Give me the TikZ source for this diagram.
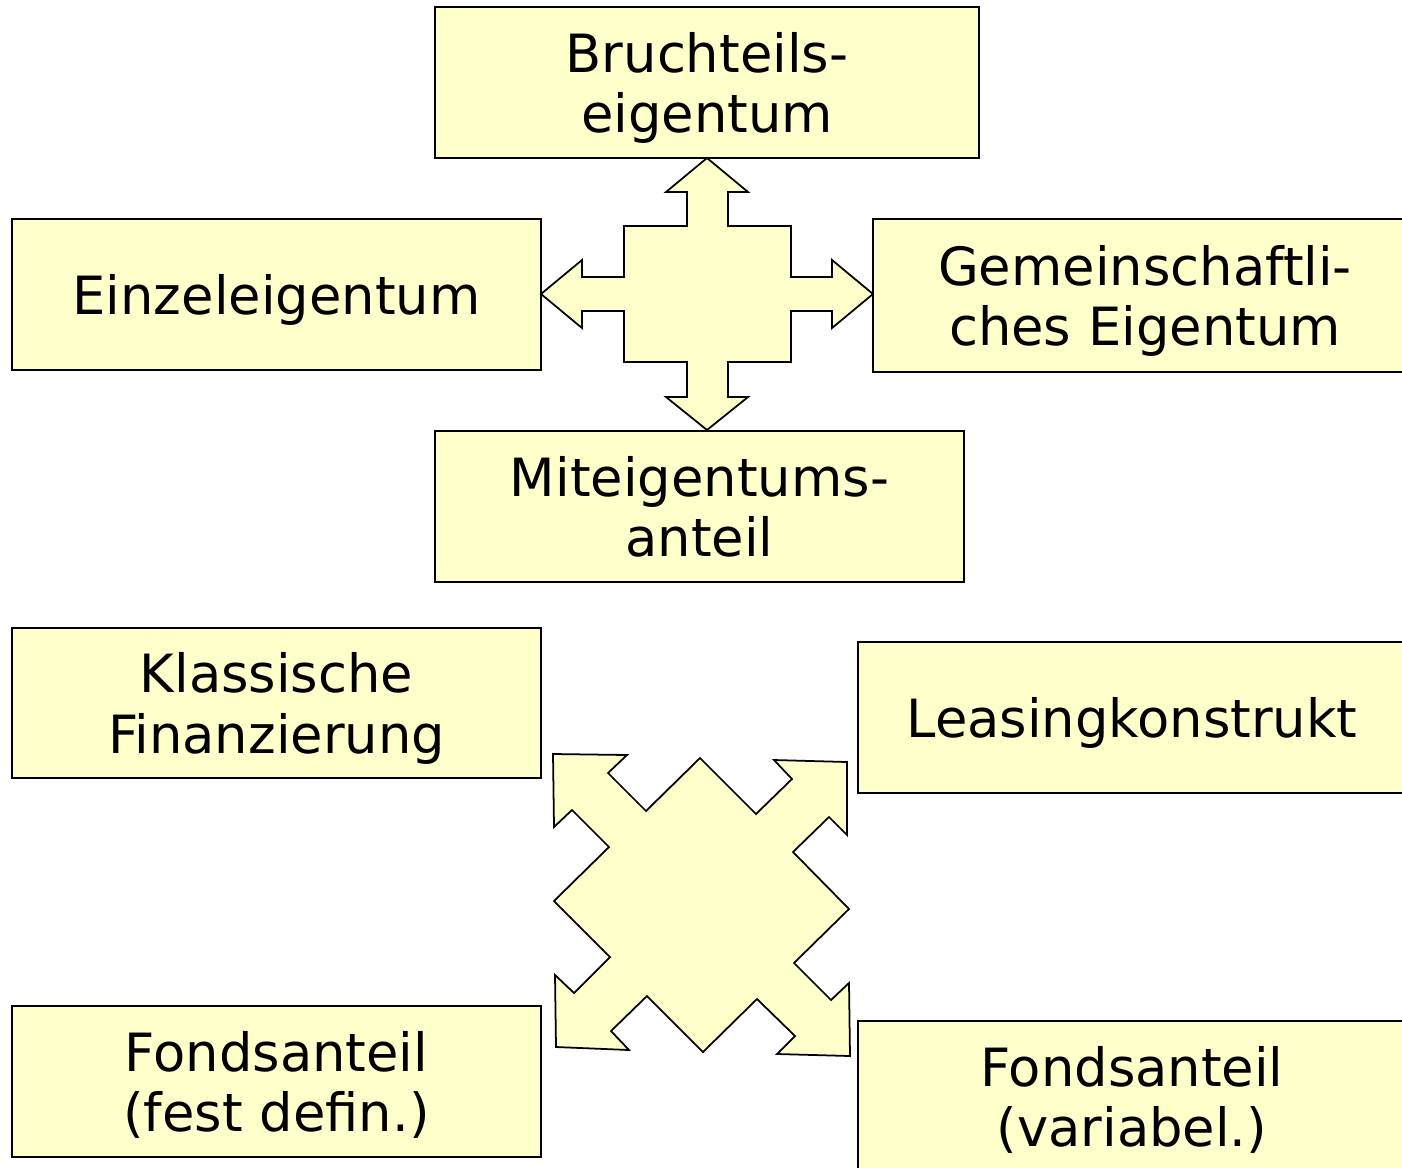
\documentclass[tikz,border=0pt]{standalone}
\usepackage{fontspec}
\setmainfont{DejaVu Sans}
\usepackage{tikz}
\usetikzlibrary{positioning}

\definecolor{boxfill}{HTML}{FFFFCC}

\begin{document}
\begin{tikzpicture}[
  x=0.02cm, y=-0.02cm,
  box/.style={draw, line width=1pt, fill=boxfill, align=center, inner sep=0pt,
    text depth=0pt, font=\fontsize{30}{34.6}\selectfont},
  blockarrow/.style={draw, line width=1pt, fill=boxfill, line join=miter}
]
  \useasboundingbox (0,0) rectangle (1402,1167);

  % upper group
  \node[box, minimum width=10.88cm, minimum height=3.02cm] (brucht) at (707,82.5) {Bruchteils-\\eigentum};
  \node[box, minimum width=10.58cm, minimum height=3.02cm] (einzel) at (276.5,294.5) {Einzeleigentum};
  \node[box, minimum width=10.88cm, minimum height=3.06cm] (gemein) at (1145,295.5) {Gemeinschaftli-\\ches Eigentum};
  \node[box, minimum width=10.58cm, minimum height=3.02cm] (mitei) at (699.5,506.5) {Miteigentums-\\anteil};

  \draw[blockarrow] (707,158) -- (748,192) -- (728,192) -- (728,226) -- (791,226) -- (791,277)
    -- (832,277) -- (832,260) -- (873,294) -- (832,328) -- (832,311) -- (791,311) -- (791,362)
    -- (728,362) -- (728,397) -- (748,397) -- (707,430) -- (666,397) -- (687,397) -- (687,362)
    -- (624,362) -- (624,311) -- (582,311) -- (582,328) -- (541,294) -- (582,260) -- (582,277)
    -- (624,277) -- (624,226) -- (687,226) -- (687,192) -- (666,192) -- cycle;

  % lower group
  \node[box, minimum width=10.58cm, minimum height=3.0cm] (klass) at (276.5,703) {Klassische\\Finanzierung};
  \node[box, minimum width=10.96cm, minimum height=3.02cm] (leasing) at (1132,717.5) {Leasingkonstrukt};
  \node[box, minimum width=10.58cm, minimum height=3.02cm] (fest) at (276.5,1081.5) {Fondsanteil\\(fest defin.)};
  \node[box, minimum width=10.96cm, minimum height=3.02cm] (variabel) at (1132,1096.5) {Fondsanteil\\(variabel.)};

  \draw[blockarrow] (553,754) -- (627,755) -- (608,773) -- (646,811) -- (700,758) -- (756,814)
    -- (792,779) -- (774,760) -- (847,762) -- (847,835) -- (829,817) -- (793,852) -- (849,909)
    -- (794,963) -- (831,1000) -- (849,983) -- (850,1056) -- (777,1054) -- (795,1036)
    -- (757,999) -- (703,1052) -- (647,996) -- (611,1031) -- (629,1050) -- (556,1047)
    -- (555,975) -- (574,993) -- (610,957) -- (554,901) -- (609,847) -- (572,810)
    -- (554,827) -- cycle;
\end{tikzpicture}
\end{document}
